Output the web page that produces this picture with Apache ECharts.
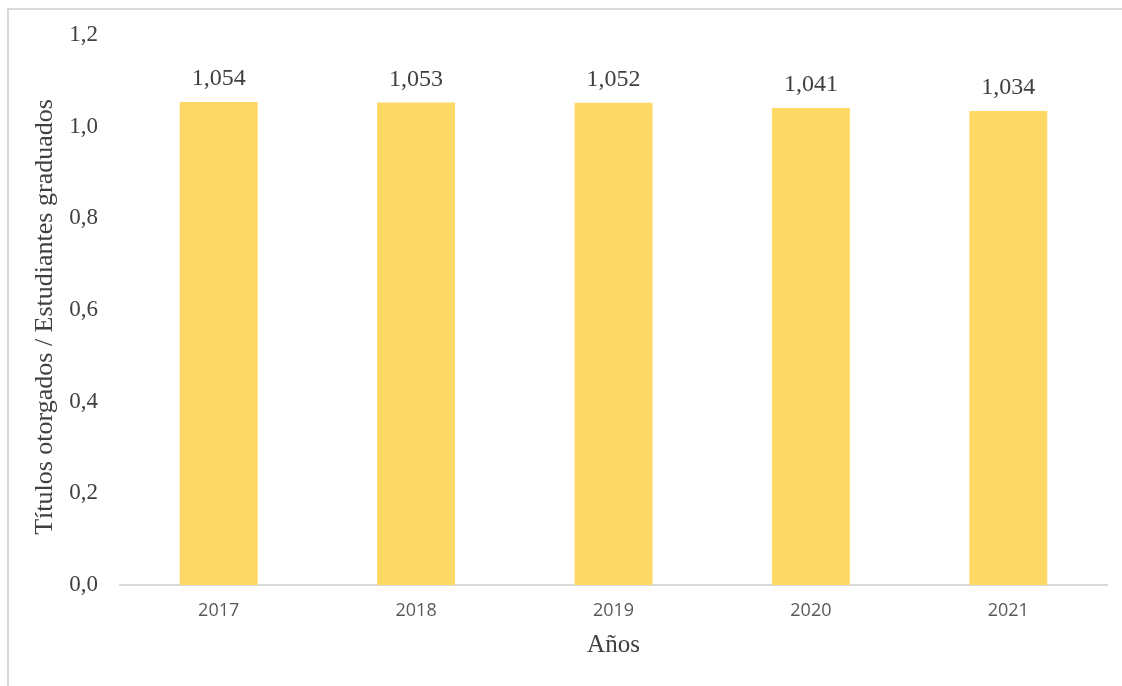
<!DOCTYPE html>
<html>
<head>
<meta charset="utf-8">
<script src="https://cdn.jsdelivr.net/npm/echarts@6/dist/echarts.min.js"></script>
<style>
  html, body { margin: 0; padding: 0; background: #fff; }
  #chart { width: 1122px; height: 686px; }
</style>
</head>
<body>
<div id="chart"></div>
<script>
var years = ['2017', '2018', '2019', '2020', '2021'];
var ratios = [1.054, 1.053, 1.052, 1.041, 1.034];
var yTicks = [0, 0.2, 0.4, 0.6, 0.8, 1.0, 1.2];

var serif = '"Liberation Serif", "DejaVu Serif", serif';

function comma(v, digits) {
  return v.toFixed(digits).replace('.', ',');
}

var option = {
  animation: false,
  backgroundColor: '#fff',
  grid: { left: 120, right: 15, top: 35, bottom: 101 },
  graphic: [{
    type: 'polyline',
    shape: { points: [[8, 686], [8, 9], [1130, 9]] },
    style: { stroke: '#d9d9d9', lineWidth: 2, fill: null }
  }],
  xAxis: {
    type: 'category',
    data: years,
    name: 'Años',
    nameLocation: 'middle',
    nameGap: 48,
    nameTextStyle: { fontFamily: serif, fontSize: 25, color: '#404040' },
    axisLine: { lineStyle: { color: '#d9d9d9', width: 2 } },
    axisTick: { show: false },
    axisLabel: { fontFamily: '"Open Sans", sans-serif', fontSize: 18, color: '#595959', margin: 17 }
  },
  yAxis: {
    type: 'value',
    min: 0,
    max: yTicks[yTicks.length - 1],
    interval: 0.2,
    name: 'Títulos otorgados / Estudiantes graduados',
    nameLocation: 'middle',
    nameGap: 60,
    nameTextStyle: { fontFamily: serif, fontSize: 26, color: '#404040', padding: [0, 14, 0, 0] },
    axisLine: { show: false },
    axisTick: { show: false },
    splitLine: { show: false },
    axisLabel: {
      fontFamily: serif, fontSize: 23, color: '#404040', margin: 22,
      formatter: function (v) { return comma(v, 1); }
    }
  },
  series: [{
    type: 'bar',
    data: ratios,
    barWidth: '39.5%',
    itemStyle: { color: '#ffd966' },
    label: {
      show: true,
      position: 'top',
      distance: 11,
      fontFamily: serif,
      fontSize: 24,
      color: '#404040',
      formatter: function (p) { return comma(p.value, 3); }
    }
  }]
};

var myChart = echarts.init(document.getElementById('chart'));
myChart.setOption(option);
</script>
</body>
</html>
